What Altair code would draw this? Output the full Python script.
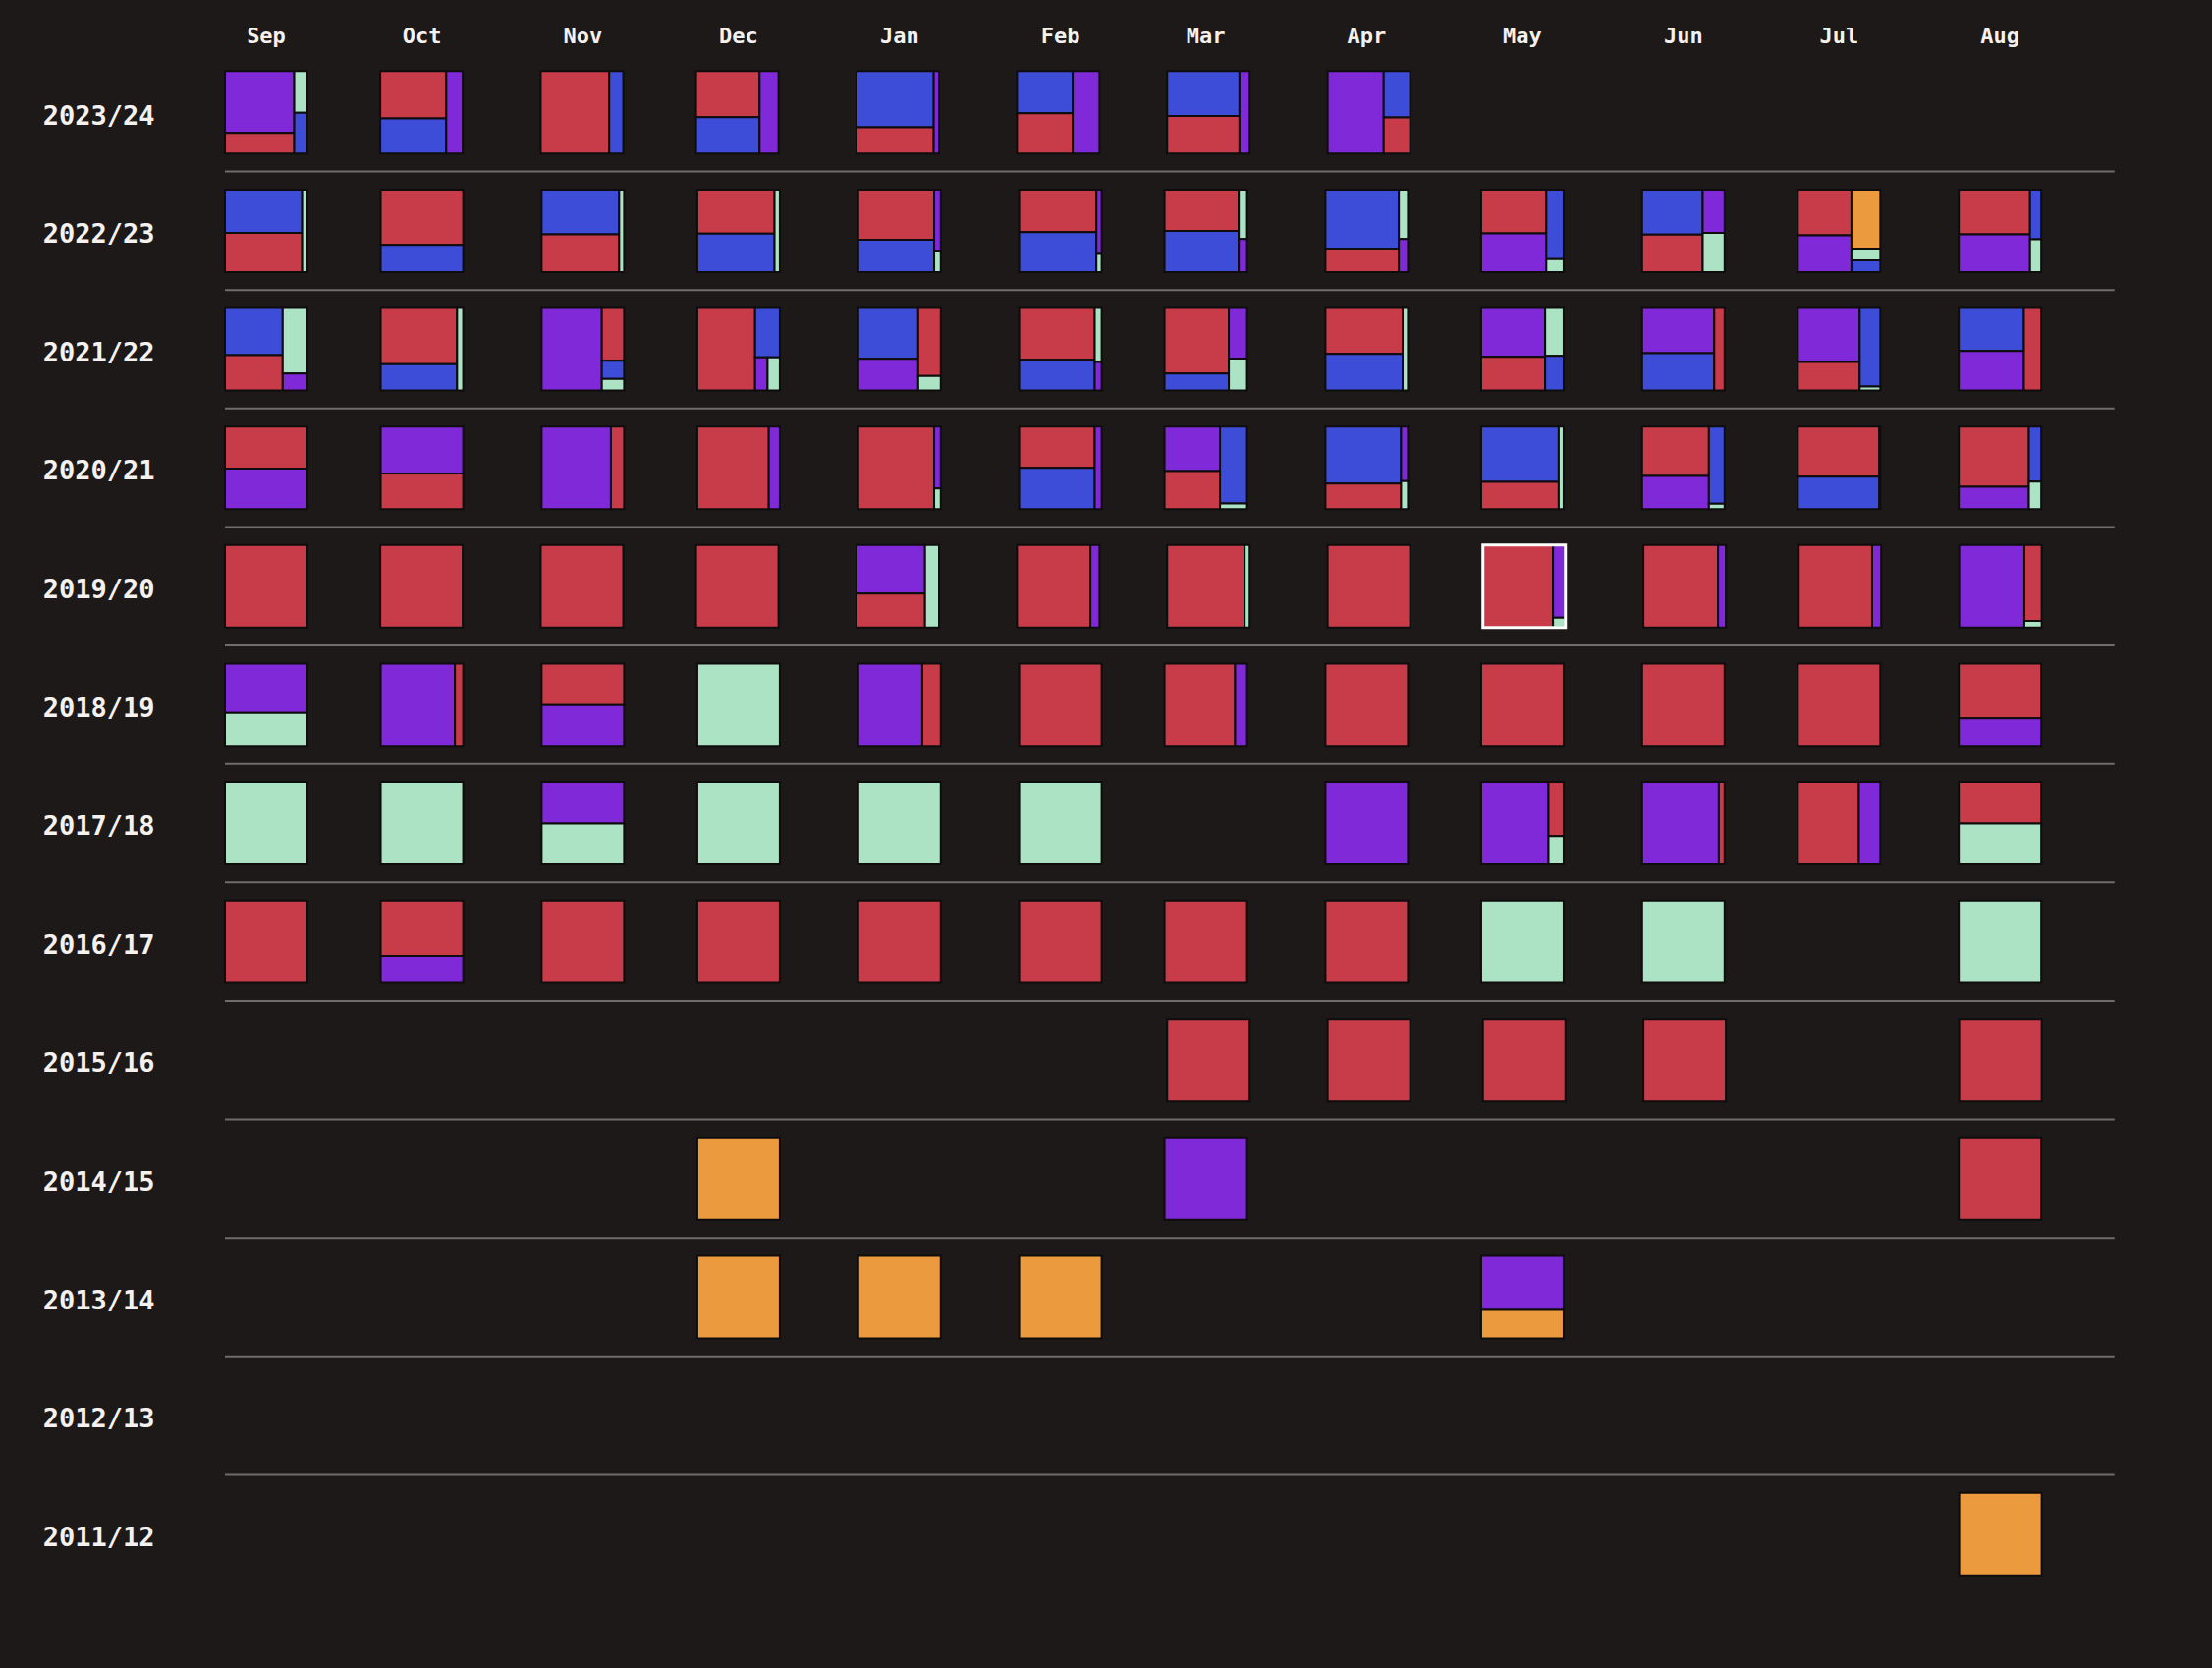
import datetime as dt
import altair as alt
import pandas as pd

# ---------------- data (shares of each category per month) ----------------
MONTHS = ["Sep", "Oct", "Nov", "Dec", "Jan", "Feb", "Mar", "Apr", "May", "Jun", "Jul", "Aug"]
MONTH_NUMS = [9, 10, 11, 12, 1, 2, 3, 4, 5, 6, 7, 8]
CATS = ["red", "blue", "purple", "mint", "orange"]
COLORS = ["#c83c4a", "#3e4dd8", "#8029d8", "#ade3c5", "#ec9a3e"]

S2023_24 = [
    {"purple": .63, "red": .21, "mint": .081, "blue": .079},
    {"red": .46, "blue": .34, "purple": .20},
    {"red": .83, "blue": .17},
    {"red": .43, "blue": .34, "purple": .23},
    {"blue": .636, "red": .30, "purple": .064},
    {"blue": .345, "red": .33, "purple": .325},
    {"blue": .477, "red": .40, "purple": .123},
    {"purple": .68, "blue": .18, "red": .14},
    None, None, None, None,
]
S2022_23 = [
    {"blue": .49, "red": .446, "mint": .064},
    {"red": .67, "blue": .33},
    {"blue": .51, "red": .43, "mint": .06},
    {"red": .50, "blue": .436, "mint": .064},
    {"red": .56, "blue": .36, "purple": .06, "mint": .02},
    {"red": .483, "blue": .453, "purple": .05, "mint": .014},
    {"red": .45, "blue": .45, "mint": .06, "purple": .04},
    {"blue": .64, "red": .25, "mint": .066, "purple": .044},
    {"red": .42, "purple": .37, "blue": .177, "mint": .033},
    {"blue": .40, "red": .335, "purple": .139, "mint": .126},
    {"red": .36, "purple": .29, "orange": .25, "mint": .05, "blue": .05},
    {"red": .47, "purple": .394, "blue": .082, "mint": .054},
]
S2021_22 = [
    {"blue": .40, "red": .30, "mint": .238, "purple": .062},
    {"red": .63, "blue": .296, "mint": .074},
    {"purple": .73, "red": .173, "blue": .059, "mint": .038},
    {"red": .70, "blue": .179, "purple": .061, "mint": .06},
    {"blue": .447, "purple": .28, "red": .225, "mint": .048},
    {"red": .574, "blue": .342, "mint": .055, "purple": .029},
    {"red": .62, "blue": .16, "purple": .135, "mint": .085},
    {"red": .52, "blue": .416, "mint": .064},
    {"purple": .46, "red": .316, "mint": .13, "blue": .094},
    {"purple": .48, "blue": .395, "red": .125},
    {"purple": .49, "red": .26, "blue": .238, "mint": .012},
    {"blue": .41, "purple": .38, "red": .21},
]
S2020_21 = [
    {"red": .51, "purple": .49},
    {"purple": .57, "red": .43},
    {"purple": .84, "red": .16},
    {"red": .866, "purple": .134},
    {"red": .92, "purple": .06, "mint": .02},
    {"red": .46, "blue": .456, "purple": .084},
    {"purple": .363, "red": .31, "blue": .305, "mint": .022},
    {"blue": .635, "red": .282, "purple": .055, "mint": .028},
    {"blue": .63, "red": .31, "mint": .06},
    {"red": .486, "purple": .324, "blue": .178, "mint": .012},
    {"red": .60, "blue": .388, "mint": .012},
    {"red": .62, "purple": .23, "blue": .10, "mint": .05},
]
S2019_20 = [
    {"red": 1}, {"red": 1}, {"red": 1}, {"red": 1},
    {"purple": .49, "red": .34, "mint": .17},
    {"red": .89, "purple": .11},
    {"red": .94, "mint": .06},
    {"red": 1},
    {"red": .85, "purple": .132, "mint": .018},
    {"red": .905, "purple": .095},
    {"red": .89, "purple": .11},
    {"purple": .79, "red": .193, "mint": .017},
]
S2018_19 = [
    {"purple": .6, "mint": .4},
    {"purple": .9, "red": .1},
    {"red": .505, "purple": .495},
    {"mint": 1},
    {"purple": .776, "red": .224},
    {"red": 1},
    {"red": .856, "purple": .144},
    {"red": 1}, {"red": 1}, {"red": 1}, {"red": 1},
    {"red": .665, "purple": .335},
]
S2017_18 = [
    {"mint": 1}, {"mint": 1},
    {"purple": .505, "mint": .495},
    {"mint": 1}, {"mint": 1}, {"mint": 1},
    None,
    {"purple": 1},
    {"purple": .816, "red": .121, "mint": .063},
    {"purple": .93, "red": .07},
    {"red": .74, "purple": .26},
    {"red": .505, "mint": .495},
]
S2016_17 = [
    {"red": 1}, {"red": .67, "purple": .33}, {"red": 1}, {"red": 1}, {"red": 1}, {"red": 1},
    {"red": 1}, {"red": 1}, {"mint": 1}, {"mint": 1}, None, {"mint": 1},
]
S2015_16 = [None, None, None, None, None, None,
            {"red": 1}, {"red": 1}, {"red": 1}, {"red": 1}, None, {"red": 1}]
S2014_15 = [None, None, None, {"orange": 1}, None, None,
            {"purple": 1}, None, None, None, None, {"red": 1}]
S2013_14 = [None, None, None, {"orange": 1}, {"orange": 1}, {"orange": 1},
            None, None, {"purple": .655, "orange": .345}, None, None, None]
S2012_13 = [None] * 12
S2011_12 = [None] * 11 + [{"orange": 1}]

SEASONS = [
    ("2023/24", S2023_24), ("2022/23", S2022_23), ("2021/22", S2021_22),
    ("2020/21", S2020_21), ("2019/20", S2019_20), ("2018/19", S2018_19),
    ("2017/18", S2017_18), ("2016/17", S2016_17), ("2015/16", S2015_16),
    ("2014/15", S2014_15), ("2013/14", S2013_14), ("2012/13", S2012_13),
    ("2011/12", S2011_12),
]
HIGHLIGHT = ("2019/20", "May")

# ---------------- layout helpers ----------------
PHI = (1 + 5 ** 0.5) / 2
PLOT_W = 1929
CELL_FRAC = 84 / PLOT_W   # square width as a fraction of the season
PAD = 0.152               # vertical offset of square inside its row band
CELL_H = 0.696            # square height in row units


def squarify(items, x0, y0, x1, y1, ratio=PHI):
    nodes = sorted(items, key=lambda kv: -kv[1])
    value = sum(v for _, v in nodes)
    out = []
    i0 = i1 = 0
    n = len(nodes)
    while i0 < n:
        dx, dy = x1 - x0, y1 - y0
        sum_v = nodes[i1][1]
        i1 += 1
        min_v = max_v = sum_v
        alpha = max(dy / dx, dx / dy) / (value * ratio)
        beta = sum_v * sum_v * alpha
        min_ratio = max(max_v / beta, beta / min_v)
        while i1 < n:
            nv = nodes[i1][1]
            sum_v += nv
            min_v = min(min_v, nv)
            max_v = max(max_v, nv)
            beta = sum_v * sum_v * alpha
            new_ratio = max(max_v / beta, beta / min_v)
            if new_ratio > min_ratio:
                sum_v -= nv
                break
            min_ratio = new_ratio
            i1 += 1
        row = nodes[i0:i1]
        if dx < dy:
            ny = y0 + dy * sum_v / value
            k = (x1 - x0) / sum_v
            xx = x0
            for key, v in row:
                out.append((key, xx, y0, xx + v * k, ny))
                xx += v * k
            y0 = ny
        else:
            nx = x0 + dx * sum_v / value
            k = (y1 - y0) / sum_v
            yy = y0
            for key, v in row:
                out.append((key, x0, yy, nx, yy + v * k))
                yy += v * k
            x0 = nx
        value -= sum_v
        i0 = i1
    return out


def season_frac(season_label, month_idx):
    """Position of the month start as a fraction of the season (Sep 1 .. next Sep 1)."""
    y = int(season_label[:4])
    m = MONTH_NUMS[month_idx]
    yr = y if m >= 9 else y + 1
    start, end = dt.date(y, 9, 1), dt.date(y + 1, 9, 1)
    return (dt.date(yr, m, 1) - start).days / (end - start).days


rect_rows, hl_rows = [], []
for si, (label, vals) in enumerate(SEASONS):
    for mi, cell in enumerate(vals):
        if not cell:
            continue
        f = season_frac(label, mi)
        for key, u0, v0, u1, v1 in squarify(list(cell.items()), 0.0, 0.0, 1.0, 1.0):
            rect_rows.append(dict(
                x=f + u0 * CELL_FRAC, x2=f + u1 * CELL_FRAC,
                y=si + PAD + v0 * CELL_H, y2=si + PAD + v1 * CELL_H,
                cat=key, season=label, month=MONTHS[mi]))
        if (label, MONTHS[mi]) == HIGHLIGHT:
            hl_rows.append(dict(x=f, x2=f + CELL_FRAC, y=si + PAD, y2=si + PAD + CELL_H))

rects = pd.DataFrame(rect_rows)
hl = pd.DataFrame(hl_rows)
rules = pd.DataFrame({"y": list(range(1, len(SEASONS))), "x": 0.0, "x2": 364 / 365})
row_labels = pd.DataFrame({"label": [s for s, _ in SEASONS],
                           "y": [i + 0.535 for i in range(len(SEASONS))],
                           "x": -185.3 / PLOT_W})
month_labels = pd.DataFrame({"m": MONTHS,
                             "x": [season_frac("2022/23", i) + CELL_FRAC / 2 for i in range(12)],
                             "y": -0.138})

X = alt.Scale(domain=[0, 1], nice=False, zero=False)
Y = alt.Scale(domain=[0, len(SEASONS)], reverse=True, nice=False, zero=False)
FONT = "DejaVu Sans Mono"
TXT = "#f4f1ef"

rule_layer = alt.Chart(rules).mark_rule(color="#6f6d6c", strokeWidth=2).encode(
    x=alt.X("x:Q", scale=X, axis=None), x2="x2:Q",
    y=alt.Y("y:Q", scale=Y, axis=None))

rect_layer = alt.Chart(rects).mark_rect(stroke="#0e0c0c", strokeWidth=2).encode(
    x=alt.X("x:Q", scale=X, axis=None), x2="x2:Q",
    y=alt.Y("y:Q", scale=Y, axis=None), y2="y2:Q",
    color=alt.Color("cat:N", scale=alt.Scale(domain=CATS, range=COLORS), legend=None))

hl_layer = alt.Chart(hl).mark_rect(fillOpacity=0, stroke="#ffffff", strokeWidth=3).encode(
    x=alt.X("x:Q", scale=X, axis=None), x2="x2:Q",
    y=alt.Y("y:Q", scale=Y, axis=None), y2="y2:Q")

row_text = alt.Chart(row_labels).mark_text(
    align="left", baseline="middle", font=FONT, fontSize=27, fontWeight="bold", color=TXT
).encode(x=alt.X("x:Q", scale=X, axis=None), y=alt.Y("y:Q", scale=Y, axis=None), text="label:N")

month_text = alt.Chart(month_labels).mark_text(
    align="center", baseline="middle", font=FONT, fontSize=22, fontWeight="bold", color=TXT
).encode(x=alt.X("x:Q", scale=X, axis=None), y=alt.Y("y:Q", scale=Y, axis=None), text="m:N")

chart = alt.layer(rule_layer, rect_layer, hl_layer, row_text, month_text).properties(
    width=PLOT_W, height=1568,
    background="#1c1918",
    padding={"left": 229, "top": 54, "right": 2252 - 229 - PLOT_W, "bottom": 76},
    autosize=alt.AutoSizeParams(type="none"),
).configure_view(strokeWidth=0)

chart.save("out.html", embed_options={"renderer": "svg", "actions": False})
